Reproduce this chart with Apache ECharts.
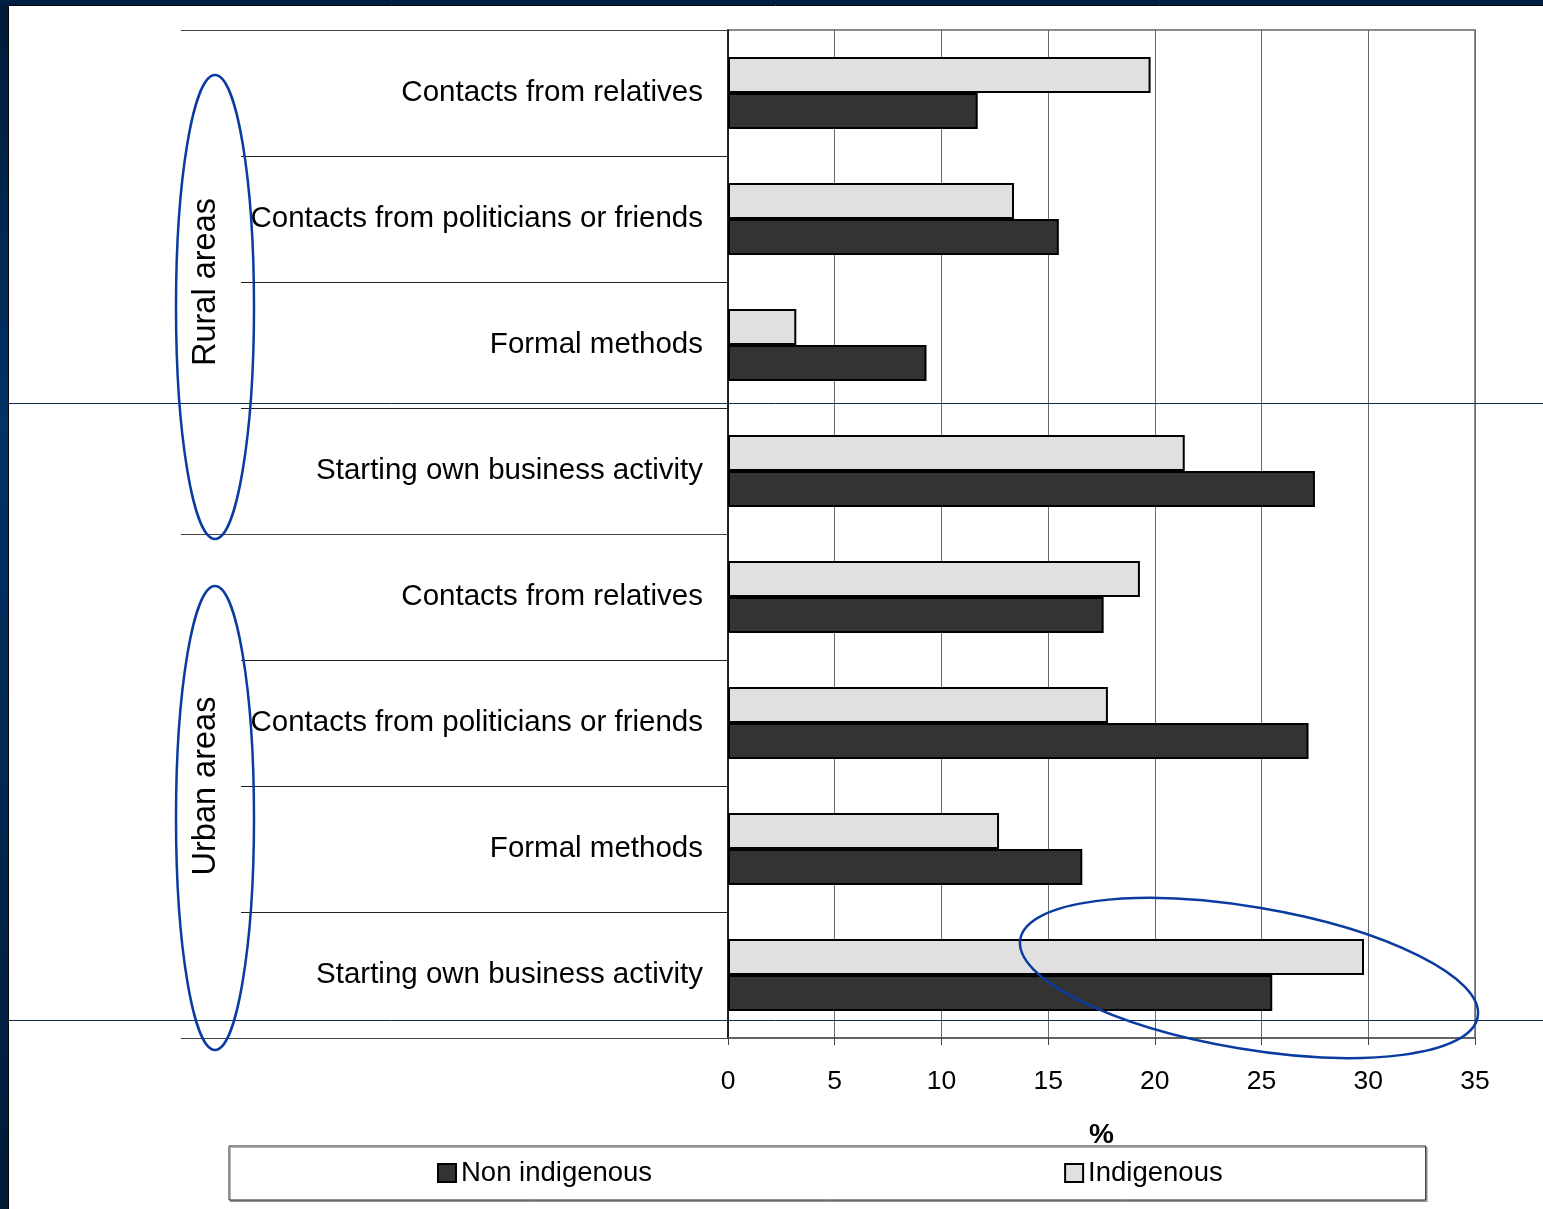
<!DOCTYPE html>
<html>
<head>
<meta charset="utf-8">
<script src="https://cdn.jsdelivr.net/npm/echarts@6/dist/echarts.min.js"></script>
<style>
  html, body { margin: 0; padding: 0; background: #ffffff; }
  #chart { width: 1543px; height: 1209px; }
</style>
</head>
<body>
<div id="chart"></div>
<script>
// Job-search methods, share of people (%) by area and population group
const categories = [
  'Contacts from relatives',
  'Contacts from politicians or friends',
  'Formal methods',
  'Starting own business activity',
  'Contacts from relatives',
  'Contacts from politicians or friends',
  'Formal methods',
  'Starting own business activity'
];
const groups = ['Rural areas', 'Urban areas'];
const indigenous = [19.8, 13.4, 3.2, 21.4, 19.3, 17.8, 12.7, 29.8];
const nonIndigenous = [11.7, 15.5, 9.3, 27.5, 17.6, 27.2, 16.6, 25.5];
const xTicks = { min: 0, max: 35, interval: 5 };

const FONT = "'Liberation Sans', Arial, sans-serif";
const W = 1543, H = 1209;

// Category rows are keyed by index so repeated names stay separate rows
const rowKeys = categories.map((c, i) => String(i));

const chart = echarts.init(document.getElementById('chart'), null, { renderer: 'canvas' });

const option = {
  backgroundColor: '#ffffff',
  animation: false,
  textStyle: { fontFamily: FONT },
  grid: {
    left: 728, right: W - 1475, top: 30, bottom: H - 1038,
    show: true, borderColor: '#8c8c8c', borderWidth: 2, backgroundColor: 'transparent'
  },
  legend: {
    data: ['Non indigenous', 'Indigenous'],
    icon: 'rect',
    left: 229, top: 1146,
    itemWidth: 18, itemHeight: 18, itemGap: 412,
    padding: [13, 203, 13, 208],
    borderColor: '#222222', borderWidth: 1,
    shadowColor: 'rgba(0,0,0,0.3)', shadowOffsetX: 1.5, shadowOffsetY: 1.5, shadowBlur: 0,
    backgroundColor: '#ffffff',
    textStyle: { fontSize: 27.5, color: '#000', fontFamily: FONT },
    selectedMode: false
  },
  xAxis: {
    type: 'value',
    min: xTicks.min, max: xTicks.max, interval: xTicks.interval,
    name: '%', nameLocation: 'middle', nameGap: 83,
    nameTextStyle: { fontSize: 28, fontWeight: 'bold', color: '#000', fontFamily: FONT },
    axisLine: { show: true, lineStyle: { color: '#555555', width: 1.5 } },
    axisTick: { show: true, length: 7, lineStyle: { color: '#444444', width: 1 } },
    axisLabel: { fontSize: 26.5, color: '#000', margin: 30, fontFamily: FONT },
    splitLine: { show: true, lineStyle: { color: '#6a6a6a', width: 1 } }
  },
  yAxis: [
    {
      type: 'category',
      data: rowKeys,
      inverse: true,
      position: 'left',
      axisLine: { show: true, onZero: false, lineStyle: { color: '#000', width: 1.5 } },
      axisTick: { show: true, length: 487, interval: 0, lineStyle: { color: '#222', width: 1 } },
      axisLabel: {
        interval: 0, margin: 25, fontSize: 29.5, color: '#000', fontFamily: FONT,
        formatter: (v) => categories[Number(v)]
      },
      splitLine: { show: false }
    },
    {
      type: 'category',
      data: groups,
      inverse: true,
      position: 'left',
      axisLine: { show: false },
      axisTick: { show: true, length: 547, interval: 0, lineStyle: { color: '#444', width: 1 } },
      axisLabel: {
        interval: 0, rotate: 90, margin: 505, fontSize: 32.5, color: '#000', fontFamily: FONT
      },
      splitLine: { show: false }
    }
  ],
  series: [
    {
      name: 'Indigenous',
      type: 'bar',
      yAxisIndex: 0,
      data: indigenous,
      barWidth: 36,
      barGap: '0%',
      itemStyle: { color: '#e0e0e0', borderColor: '#000', borderWidth: 2 }
    },
    {
      name: 'Non indigenous',
      type: 'bar',
      yAxisIndex: 0,
      data: nonIndigenous,
      barWidth: 36,
      barGap: '0%',
      itemStyle: { color: '#333333', borderColor: '#000', borderWidth: 2 }
    }
  ],
  graphic: [
    // slide frame: dark bands along the top and left edges
    {
      type: 'rect', silent: true, z: 100,
      shape: { x: 0, y: 0, width: 8, height: H },
      style: {
        fill: {
          type: 'linear', x: 0, y: 0, x2: 0, y2: 1,
          colorStops: [
            { offset: 0, color: '#001a38' },
            { offset: 0.35, color: '#003366' },
            { offset: 1, color: '#001a38' }
          ]
        }
      }
    },
    {
      type: 'rect', silent: true, z: 100,
      shape: { x: 0, y: 0, width: W, height: 5 },
      style: { fill: '#001f42' }
    },
    {
      type: 'line', silent: true, z: 100,
      shape: { x1: 8, y1: 5.5, x2: W, y2: 5.5 },
      style: { stroke: '#000', lineWidth: 1 }
    },
    {
      type: 'line', silent: true, z: 100,
      shape: { x1: 8.5, y1: 5, x2: 8.5, y2: H },
      style: { stroke: '#000', lineWidth: 1 }
    },
    // slide guide lines
    {
      type: 'line', silent: true, z: 90,
      shape: { x1: 8, y1: 403.5, x2: W, y2: 403.5 },
      style: { stroke: '#0b2a55', lineWidth: 1 }
    },
    {
      type: 'line', silent: true, z: 90,
      shape: { x1: 8, y1: 1020.5, x2: W, y2: 1020.5 },
      style: { stroke: '#0b2a55', lineWidth: 1 }
    },
    // highlight ellipses
    {
      type: 'ellipse', silent: true, z: 95,
      shape: { cx: 215, cy: 307, rx: 39, ry: 232 },
      style: { fill: 'none', stroke: '#0a3ba0', lineWidth: 2.5 }
    },
    {
      type: 'ellipse', silent: true, z: 95,
      shape: { cx: 215, cy: 818, rx: 39, ry: 232 },
      style: { fill: 'none', stroke: '#0a3ba0', lineWidth: 2.5 }
    },
    {
      type: 'ellipse', silent: true, z: 95,
      x: 1249, y: 978, rotation: -0.1676,
      shape: { cx: 0, cy: 0, rx: 232, ry: 71 },
      style: { fill: 'none', stroke: '#0a3ba0', lineWidth: 2.5 }
    }
  ]
};

chart.setOption(option);
</script>
</body>
</html>
